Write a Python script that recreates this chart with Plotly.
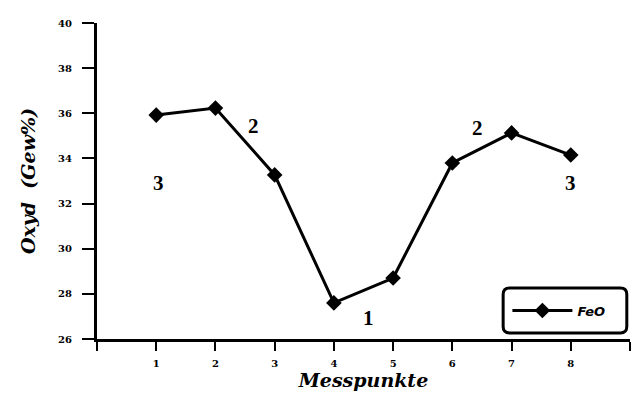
import plotly.graph_objects as go

# Data
messpunkte = [1, 2, 3, 4, 5, 6, 7, 8]
feo = [35.92, 36.23, 33.27, 27.6, 28.7, 33.8, 35.13, 34.15]
x_tick_vals = [0, 1, 2, 3, 4, 5, 6, 7, 8, 9]
x_tick_text = ["", "1", "2", "3", "4", "5", "6", "7", "8", ""]
y_tick_vals = [26, 28, 30, 32, 34, 36, 38, 40]
label_text = ["3", "2", "1", "2", "3"]
label_x = [1.03, 2.65, 4.58, 6.42, 8.0]
label_y = [32.9, 35.45, 26.93, 35.35, 32.9]

FONT = "DejaVu Serif"
TFONT = "Liberation Serif"

fig = go.Figure()
fig.add_trace(go.Scatter(
    x=messpunkte, y=feo, mode="lines+markers", name="<b><i>FeO</i></b>",
    line=dict(color="black", width=3),
    marker=dict(symbol="diamond", size=12, color="black"),
))

for t, xx, yy in zip(label_text, label_x, label_y):
    fig.add_annotation(x=xx, y=yy, text=f"<b>{t}</b>", showarrow=False,
                       font=dict(family=TFONT, size=21, color="black"))

# rounded legend box
x0, x1, y0, y1, r = 0.762, 0.994, 0.019, 0.161, 0.012
ry = r * 533 / 316
path = (f"M {x0+r},{y1} L {x1-r},{y1} Q {x1},{y1} {x1},{y1-ry} "
        f"L {x1},{y0+ry} Q {x1},{y0} {x1-r},{y0} L {x0+r},{y0} "
        f"Q {x0},{y0} {x0},{y0+ry} L {x0},{y1-ry} Q {x0},{y1} {x0+r},{y1} Z")
fig.add_shape(type="path", path=path, xref="paper", yref="paper",
              line=dict(color="black", width=3), fillcolor="white", layer="below")

fig.update_layout(
    width=639, height=394,
    margin=dict(l=97, r=9, t=23, b=55),
    paper_bgcolor="white", plot_bgcolor="white",
    font=dict(family=FONT, color="black"),
    showlegend=True,
    legend=dict(x=0.77, y=0.09, xanchor="left", yanchor="middle",
                bgcolor="rgba(0,0,0,0)", borderwidth=0, itemwidth=60,
                font=dict(family="DejaVu Sans", size=13, color="black")),
    xaxis=dict(range=[0, 9], tickvals=x_tick_vals, ticktext=x_tick_text,
               showline=True, linecolor="black", linewidth=3, showgrid=False,
               zeroline=False, ticks="outside", ticklen=9, tickwidth=2,
               tickcolor="black", ticklabelstandoff=4,
               tickfont=dict(family=FONT, size=10, color="black", weight="bold"),
               title=dict(text="<b><i>Messpunkte</i></b>",
                          font=dict(family=FONT, size=19, color="black"),
                          standoff=4)),
    yaxis=dict(range=[26, 40], tickvals=y_tick_vals,
               showline=True, linecolor="black", linewidth=3, showgrid=False,
               zeroline=False, ticks="outside", ticklen=12, tickwidth=2,
               tickcolor="black", ticklabelstandoff=8,
               tickfont=dict(family=FONT, size=10, color="black", weight="bold"),
               title=dict(text="<b><i>Oxyd&nbsp;&nbsp;(Gew%)</i></b>",
                          font=dict(family=FONT, size=19, color="black"),
                          standoff=18)),
)

fig.write_html("out.html", config={"displayModeBar": False},
               post_script="document.body.style.margin='0px';")
